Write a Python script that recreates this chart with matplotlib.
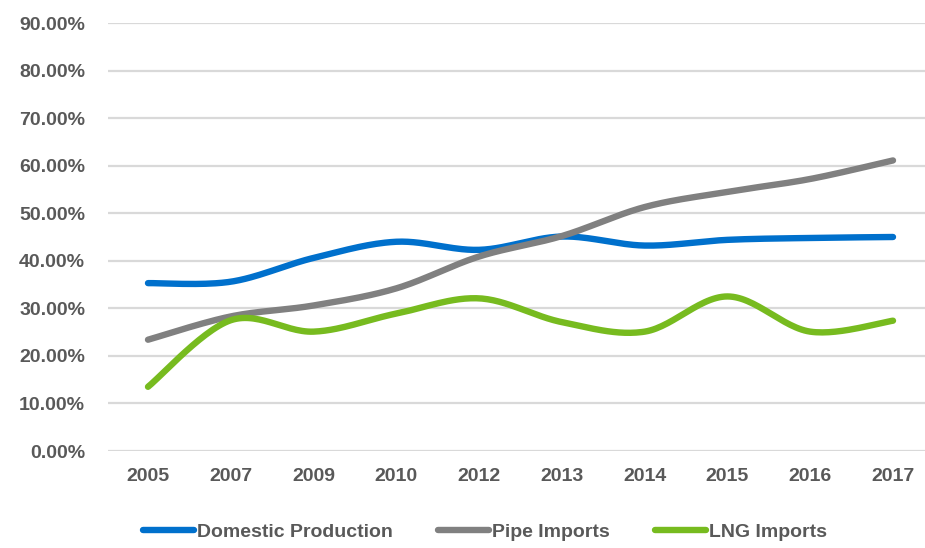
import numpy as np
import matplotlib
matplotlib.use("Agg")
import matplotlib.pyplot as plt
from matplotlib.lines import Line2D
from matplotlib import font_manager

years = ["2005", "2007", "2009", "2010", "2012", "2013", "2014", "2015", "2016", "2017"]
domestic = [35.3, 35.6, 40.6, 44.0, 42.3, 45.1, 43.2, 44.4, 44.8, 45.0]
pipe = [23.4, 28.3, 30.6, 34.2, 40.9, 45.2, 51.3, 54.5, 57.2, 61.1]
lng = [13.5, 27.5, 25.1, 28.9, 32.1, 27.1, 25.1, 32.5, 25.1, 27.4]

series_names = ["Domestic Production", "Pipe Imports", "LNG Imports"]
series_colors = ["#0070CC", "#808080", "#77BB1F"]

text_color = "#595959"
installed = {f.name for f in font_manager.fontManager.ttflist}
if "Liberation Sans Narrow" in installed:
    font_name, font_size = "Liberation Sans Narrow", 16.5
else:
    font_name, font_size = "Liberation Sans", 14
plt.rcParams['font.family'] = [font_name, "DejaVu Sans"]


def smooth(xs, ys, n=30):
    # Excel-like smoothing: Catmull-Rom as cubic Bezier segments
    pts = np.column_stack([xs, ys]).astype(float)
    p = np.vstack([pts[0], pts, pts[-1]])
    out = []
    t = np.linspace(0, 1, n)[:, None]
    for i in range(1, len(p) - 2):
        p0, p1, p2, p3 = p[i - 1], p[i], p[i + 1], p[i + 2]
        c1 = p1 + (p2 - p0) / 6
        c2 = p2 - (p3 - p1) / 6
        seg = ((1 - t) ** 3) * p1 + 3 * ((1 - t) ** 2) * t * c1 + 3 * (1 - t) * t ** 2 * c2 + t ** 3 * p2
        out.append(seg if i == 1 else seg[1:])
    out = np.vstack(out)
    return out[:, 0], out[:, 1]


fig = plt.figure(figsize=(9.25, 5.48), dpi=100)
W, H = 925, 548
ax = fig.add_axes([108 / W, 1 - 451 / H, (925 - 108) / W, (451 - 23) / H])

x = np.arange(len(years))
for vals, color in zip([domestic, pipe, lng], series_colors):
    sx, sy = smooth(x, vals)
    ax.plot(sx, sy, color=color, lw=4.6, solid_capstyle='round', clip_on=False, zorder=3)

spacing = (893 - 148) / 9
ax.set_xlim(-(148 - 108) / spacing, 9 + (925 - 893) / spacing)
ax.set_ylim(0, 90)
ax.set_yticks(np.arange(0, 91, 10))
ax.set_yticklabels([f"{v:.2f}%" for v in np.arange(0, 91, 10)])
ax.set_xticks(x)
ax.set_xticklabels(years)

ax.grid(axis='y', color='#D9D9D9', lw=1.6)
ax.set_axisbelow(True)
for s in ax.spines.values():
    s.set_visible(False)
ax.tick_params(length=0)
ax.tick_params(axis='y', pad=16.5)
ax.tick_params(axis='x', pad=12)
for lab in ax.get_xticklabels() + ax.get_yticklabels():
    lab.set_fontsize(font_size)
    lab.set_fontweight('bold')
    lab.set_color(text_color)

handles = [Line2D([0], [0], color=c, lw=4.6, solid_capstyle='round') for c in series_colors]
leg = fig.legend(handles, series_names, loc='center', bbox_to_anchor=(485 / W, 1 - 532 / H),
                 ncol=3, frameon=False, handlelength=2.6, handletextpad=0.15,
                 columnspacing=2.35, prop={'size': font_size, 'weight': 'bold'})
for t in leg.get_texts():
    t.set_color(text_color)

fig.savefig("out.png", dpi=100)
